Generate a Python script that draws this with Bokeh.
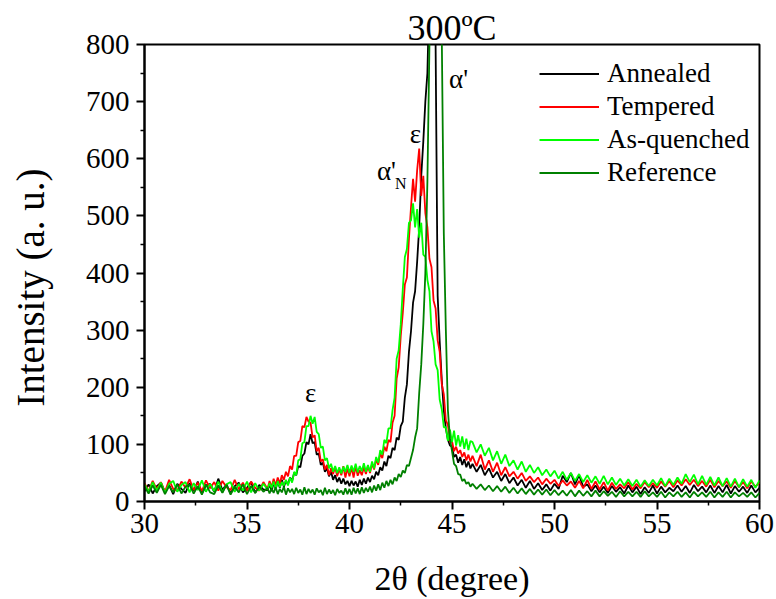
from bokeh.plotting import figure
from bokeh.models import Label, Legend, LegendItem, FixedTicker, ColumnDataSource
from bokeh.embed import file_html
from bokeh.resources import INLINE

FONT = "Liberation Serif"

# ---------------- data ----------------
two_theta_a = [30.0, 30.2, 30.4, 30.6, 30.8, 31.0, 31.2, 31.4, 31.6, 31.8,
               32.0, 32.2, 32.4, 32.6, 32.8, 33.0, 33.2, 33.4, 33.6, 33.8,
               34.0, 34.2, 34.4, 34.6, 34.8, 35.0, 35.2, 35.4, 35.6, 35.8]
two_theta_b = [36.0, 36.1, 36.2, 36.3, 36.4, 36.5, 36.6, 36.7, 36.8, 36.9,
               37.0, 37.1, 37.2, 37.3, 37.4, 37.5, 37.6, 37.7, 37.8, 37.9,
               38.0, 38.1, 38.2, 38.3, 38.4, 38.5, 38.6, 38.7, 38.8, 38.9,
               39.0, 39.1, 39.2, 39.3, 39.4, 39.5, 39.6, 39.7, 39.8, 39.9,
               40.0, 40.1, 40.2, 40.3, 40.4, 40.5, 40.6, 40.7, 40.8, 40.9,
               41.0, 41.1, 41.2, 41.3, 41.4, 41.5, 41.6, 41.7, 41.8, 41.9,
               42.0, 42.1, 42.2, 42.3, 42.4, 42.5, 42.6, 42.7, 42.8, 42.9,
               43.0, 43.1, 43.2, 43.3, 43.4, 43.5, 43.6, 43.7, 43.8, 43.9,
               44.0, 44.1, 44.2, 44.3, 44.4, 44.5, 44.6, 44.7, 44.8, 44.9,
               45.0, 45.1, 45.2, 45.3, 45.4, 45.5, 45.6, 45.7, 45.8, 45.9]
two_theta_c = [46.0, 46.2, 46.4, 46.6, 46.8, 47.0, 47.2, 47.4, 47.6, 47.8,
               48.0, 48.2, 48.4, 48.6, 48.8, 49.0, 49.2, 49.4, 49.6, 49.8,
               50.0, 50.2, 50.4, 50.6, 50.8, 51.0, 51.2, 51.4, 51.6, 51.8,
               52.0, 52.2, 52.4, 52.6, 52.8, 53.0, 53.2, 53.4, 53.6, 53.8,
               54.0, 54.2, 54.4, 54.6, 54.8, 55.0, 55.2, 55.4, 55.6, 55.8,
               56.0, 56.2, 56.4, 56.6, 56.8, 57.0, 57.2, 57.4, 57.6, 57.8,
               58.0, 58.2, 58.4, 58.6, 58.8, 59.0, 59.2, 59.4, 59.6, 59.8,
               60.0]
two_theta = two_theta_a + two_theta_b + two_theta_c

annealed = [
    18, 30, 14, 27, 33, 16, 29, 13, 31, 22,
    15, 32, 19, 35, 14, 28, 31, 17, 40, 20,
    30, 14, 27, 33, 16, 24, 34, 15, 29, 21,
    20, 30, 18, 33, 22, 35, 24, 38, 26, 36,
    30, 42, 36, 50, 46, 62, 60, 80, 84, 104,
    100, 118, 102, 104, 82, 84, 64, 68, 52, 58,
    44, 52, 38, 46, 34, 42, 31, 40, 30, 36,
    27, 36, 28, 35, 26, 38, 29, 40, 31, 42,
    34, 45, 39, 52, 46, 60, 54, 70, 62, 80,
    76, 94, 90, 112, 108, 132, 140, 182, 205, 262,
    298, 348, 368, 420, 480, 570, 630, 700, 750, 900,
    1100, 1000, 800, 360, 280, 213, 160, 128, 108, 98,
    96, 78, 82, 68, 78, 64, 74, 60, 70, 58,
    66, 52, 64, 46, 58, 42, 52, 36, 48, 32,
    42, 28, 38, 24, 36, 22, 32, 20, 30, 19,
    31, 22, 45, 34, 50, 30, 46, 26, 30, 18,
    28, 16, 26, 15, 27, 17, 25, 14, 28, 16,
    26, 13, 25, 15, 28, 14, 26, 16, 24, 18,
    28, 17, 27, 15, 29, 18, 26, 16, 28, 15,
    27, 16, 29, 14, 27, 17, 26, 15, 28, 16,
    24]

tempered = [
    32, 18, 36, 21, 34, 17, 38, 22, 19, 35,
    24, 39, 20, 33, 18, 37, 23, 34, 19, 36,
    25, 20, 38, 21, 33, 18, 35, 24, 19, 34,
    22, 36, 25, 40, 28, 42, 31, 46, 38, 52,
    44, 62, 56, 80, 80, 104, 106, 132, 130, 148,
    140, 138, 112, 116, 88, 94, 70, 74, 56, 64,
    46, 58, 48, 60, 44, 57, 46, 62, 42, 58,
    44, 60, 42, 62, 45, 55, 46, 60, 48, 62,
    50, 66, 56, 74, 64, 84, 76, 96, 88, 108,
    104, 138, 150, 215, 235, 290, 330, 380, 392, 460,
    515, 565, 525, 580, 618, 535, 570, 505, 480, 425,
    410, 352, 338, 282, 262, 206, 188, 142, 134, 104,
    106, 88, 96, 84, 90, 78, 86, 72, 82, 70,
    80, 62, 82, 56, 72, 52, 68, 46, 60, 44,
    52, 40, 50, 36, 44, 34, 42, 30, 40, 31,
    38, 27, 37, 28, 35, 24, 36, 23, 38, 22,
    35, 21, 34, 19, 33, 22, 30, 23, 34, 21,
    31, 23, 34, 25, 32, 24, 35, 26, 36, 25,
    37, 28, 39, 29, 38, 27, 36, 26, 38, 25,
    36, 27, 35, 24, 36, 25, 34, 23, 35, 26,
    33]

as_quenched = [
    30, 17, 34, 19, 33, 15, 31, 36, 17, 29,
    34, 16, 32, 20, 37, 17, 31, 18, 35, 16,
    30, 34, 17, 31, 19, 35, 16, 32, 19, 31,
    21, 32, 24, 35, 22, 36, 25, 34, 28, 38,
    28, 42, 33, 52, 46, 72, 74, 102, 104, 132,
    132, 150, 136, 148, 122, 118, 94, 96, 72, 76,
    58, 66, 52, 62, 50, 60, 49, 61, 52, 64,
    50, 63, 52, 66, 51, 62, 53, 67, 52, 64,
    52, 70, 58, 78, 68, 90, 82, 108, 102, 128,
    128, 160, 182, 250, 265, 310, 372, 428, 442, 488,
    492, 522, 480, 512, 462, 488, 432, 428, 388, 368,
    298, 280, 240, 230, 178, 162, 130, 130, 106, 126,
    104, 124, 98, 116, 96, 114, 92, 110, 90, 106,
    104, 86, 100, 80, 94, 72, 88, 66, 82, 62,
    72, 56, 70, 52, 64, 50, 60, 46, 56, 44,
    54, 40, 52, 38, 50, 36, 48, 34, 46, 33,
    44, 31, 45, 30, 42, 29, 40, 28, 39, 27,
    38, 26, 37, 27, 38, 28, 41, 27, 40, 29,
    42, 31, 48, 34, 47, 30, 45, 29, 43, 28,
    42, 27, 41, 26, 40, 25, 39, 26, 38, 24,
    37]

reference = [
    26, 14, 28, 15, 29, 13, 27, 16, 30, 14,
    26, 29, 14, 27, 12, 30, 16, 13, 28, 15,
    29, 12, 26, 16, 30, 13, 27, 15, 26, 17,
    24, 14, 23, 15, 25, 13, 22, 16, 26, 12,
    23, 16, 22, 13, 24, 15, 21, 12, 25, 13,
    22, 15, 21, 12, 23, 16, 20, 11, 24, 13,
    21, 14, 20, 11, 22, 15, 19, 12, 23, 13,
    22, 12, 24, 14, 23, 13, 25, 15, 24, 17,
    26, 16, 28, 19, 30, 20, 33, 24, 36, 27,
    38, 30, 42, 36, 48, 43, 54, 50, 64, 62,
    76, 90, 112, 128, 190, 240, 310, 400, 560, 800,
    1250, 1900, 2500, 2200, 1500, 820, 470, 300, 160, 110,
    88, 66, 62, 48, 47, 36, 39, 31, 34, 26,
    31, 22, 30, 20, 28, 18, 27, 17, 26, 15,
    24, 14, 23, 13, 22, 12, 21, 12, 21, 11,
    20, 11, 19, 10, 20, 9, 19, 10, 18, 9,
    19, 9, 18, 10, 17, 8, 18, 9, 17, 9,
    17, 8, 18, 9, 16, 8, 17, 7, 16, 9,
    17, 8, 16, 7, 17, 9, 16, 8, 17, 7,
    16, 8, 17, 7, 16, 9, 15, 8, 16, 7,
    15]

series_names = ["Annealed", "Tempered", "As-quenched", "Reference"]
series_values = [annealed, tempered, as_quenched, reference]
series_colors = ["#000000", "#ff0000", "#00ff00", "#008000"]

x_ticks = [30, 35, 40, 45, 50, 55, 60]
x_minor_ticks = [32.5, 37.5, 42.5, 47.5, 52.5, 57.5]
y_ticks = [0, 100, 200, 300, 400, 500, 600, 700, 800]
y_minor_ticks = [50, 150, 250, 350, 450, 550, 650, 750]

for vals in series_values:
    assert len(vals) == len(two_theta), (len(vals), len(two_theta))

# ---------------- figure ----------------
p = figure(width=776, height=599, x_range=(30, 60), y_range=(0, 800),
           output_backend="svg", toolbar_location=None,
           min_border_left=144, min_border_right=17,
           min_border_top=44, min_border_bottom=97)
p.xgrid.visible = False
p.ygrid.visible = False
p.outline_line_color = "black"
p.outline_line_width = 2
p.background_fill_color = "white"
p.border_fill_color = "white"

p.title.text = "300ºC"
p.title.align = "center"
p.title.text_font = FONT
p.title.text_font_size = "36px"
p.title.text_font_style = "normal"
p.title.text_color = "black"
p.title.standoff = -6

renderers = []
for name, vals, col in zip(series_names, series_values, series_colors):
    src = ColumnDataSource(dict(x=two_theta, y=vals))
    r = p.line("x", "y", source=src, line_color=col, line_width=1.8)
    renderers.append(r)

def style_axis(ax):
    ax.axis_line_width = 2
    ax.major_tick_line_width = 2
    ax.minor_tick_line_width = 1.5
    ax.major_tick_in = 0
    ax.minor_tick_in = 0
    ax.major_tick_out = 8
    ax.minor_tick_out = 4
    ax.major_label_text_font = FONT
    ax.major_label_text_font_size = "29px"
    ax.major_label_text_color = "black"
    ax.axis_label_text_font = FONT
    ax.axis_label_text_font_style = "normal"
    ax.axis_label_text_color = "black"

xa = p.xaxis[0]
xa.ticker = FixedTicker(ticks=x_ticks, minor_ticks=x_minor_ticks)
style_axis(xa)
xa.major_label_standoff = 4
xa.axis_label = "2θ (degree)"
xa.axis_label_text_font_size = "34px"
xa.axis_label_standoff = 24

ya = p.yaxis[0]
ya.ticker = FixedTicker(ticks=y_ticks, minor_ticks=y_minor_ticks)
style_axis(ya)
ya.major_label_standoff = 7
ya.axis_label = "Intensity (a. u.)\u00a0\u00a0\u00a0"
ya.axis_label_text_font_size = "39px"
ya.axis_label_standoff = 31

legend = Legend(
    items=[LegendItem(label=n, renderers=[r]) for n, r in zip(series_names, renderers)],
    location=(395, 312), border_line_color=None, background_fill_alpha=0,
    padding=0, margin=0, spacing=0, glyph_width=60, glyph_height=33,
    label_height=33, label_standoff=8, label_text_font=FONT,
    label_text_font_size="27px", label_text_color="black")
p.add_layout(legend)

def add_label(x, y, text, size="27px"):
    p.add_layout(Label(x=x, y=y, text=text, text_align="center",
                       text_baseline="middle", text_font=FONT,
                       text_font_size=size, text_color="black"))

add_label(38.1, 190, "ε")
add_label(41.8, 578, "α'")
add_label(42.5, 556, "N", size="16px")
add_label(43.22, 644, "ε")
add_label(45.32, 740, "α'")

open("out.html", "w").write(file_html(p, INLINE))
